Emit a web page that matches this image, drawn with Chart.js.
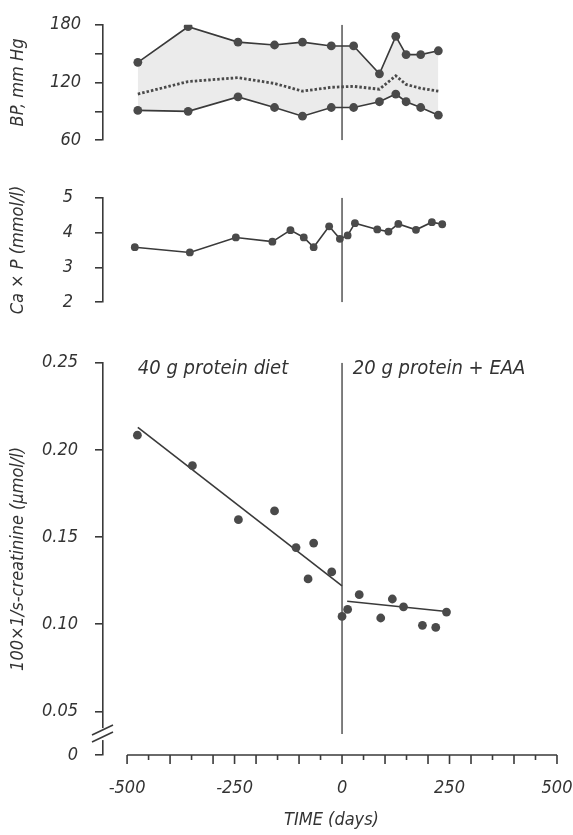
<!DOCTYPE html>
<html><head><meta charset="utf-8">
<script src="https://cdn.jsdelivr.net/npm/chart.js@4/dist/chart.umd.min.js"></script>
<style>
html,body{margin:0;padding:0;background:#fff;}
#wrap{position:relative;width:573px;height:835px;overflow:hidden;background:#fff;}
.box{position:absolute;left:0;width:573px;}
</style></head><body>
<div id="wrap">
  <div class="box" style="top:0;height:165px"><canvas id="c1"></canvas></div>
  <div class="box" style="top:165px;height:170px"><canvas id="c2"></canvas></div>
  <div class="box" style="top:335px;height:500px"><canvas id="c3"></canvas></div>
</div>
<script>
// ---------- data ----------
const bpDays    = [-475, -358, -242, -157, -92, -25, 27, 87, 125, 149, 183, 224];
const systolic  = [141, 178, 162, 159, 162, 158, 158, 129, 168, 149, 149, 153];
const diastolic = [91, 90, 105, 94, 85, 94, 94, 100, 108, 100, 94, 86];
const meanBP    = [108, 121, 125, 119, 111, 115, 116, 113, 127, 118, 114, 111];

const caDays = [-482, -354, -247, -162, -120, -89, -66, -30, -5, 13, 30, 82, 108, 131, 172, 209, 233];
const caxP   = [3.58, 3.43, 3.86, 3.74, 4.07, 3.86, 3.58, 4.18, 3.82, 3.92, 4.27, 4.09, 4.03, 4.25, 4.08, 4.30, 4.24];

const crDays     = [-476, -348, -241, -157, -107, -79, -66, -24, 0, 13, 40, 90, 117, 143, 187, 218, 243];
const creatinine = [0.2085, 0.191, 0.160, 0.165, 0.144, 0.126, 0.1466, 0.130, 0.1045, 0.1085, 0.117, 0.1036, 0.1145, 0.110, 0.0994, 0.0982, 0.107];

const fitBeforeDays = [-475, 0];
const fitBeforeVals = [0.213, 0.122];
const fitAfterDays  = [12, 243];
const fitAfterVals  = [0.1132, 0.1073];

const changeDay = 0;
const xTickLabels  = [-500, -250, 0, 250, 500];
const bpTickMarks  = [60, 90, 120, 150, 180];
const bpTickLabels = [60, 120, 180];
const caTicks      = [2, 3, 4, 5];
const crTicks      = [0.05, 0.10, 0.15, 0.20, 0.25];
const crAxisZero   = 0.025;   // broken-axis position of "0"

const dietLabels = [
  {day: -475, value: 0.2437, text: '40 g protein diet'},
  {day: 25,   value: 0.2437, text: '20 g protein + EAA'}
];

// ---------- helpers ----------
const pts = (xs, ys) => xs.map((x, i) => ({x: x, y: ys[i]}));
const FONT = "'Liberation Sans Narrow', 'DejaVu Sans Condensed', 'Liberation Sans', sans-serif";
const INK = '#3a3a3a';
Chart.defaults.font = {family: FONT, size: 18, style: 'italic'};
Chart.defaults.color = '#333';
Chart.defaults.animation = false;

const X_MIN = -556, X_MAX = 507, Y_W = 103;
const xHidden = {type: 'linear', min: X_MIN, max: X_MAX, display: false};

function yAxis(min, max, marks, labelFn, title, pad) {
  return {
    type: 'linear', min: min, max: max,
    afterBuildTicks: s => { s.ticks = marks.map(v => ({value: v})); },
    afterFit: s => { s.width = Y_W; },
    ticks: {callback: labelFn, padding: pad, color: '#333', font: {size: 18, style: 'italic', family: FONT}},
    grid: {drawOnChartArea: false, drawTicks: true, tickLength: 8, color: INK, lineWidth: 1.6},
    border: {display: true, color: INK, width: 1.6},
    title: {display: true, text: title, color: '#333', padding: {top: 8, bottom: 0},
            font: {size: 18, style: 'italic', family: FONT}}
  };
}
const lineDS = (data, extra) => Object.assign({
  data: data, showLine: true, borderColor: INK, borderWidth: 1.6,
  pointRadius: 4.4, pointHoverRadius: 4.4, pointBackgroundColor: '#4a4a4a', pointBorderWidth: 0,
  fill: false, tension: 0
}, extra || {});
const vline = (y0, y1) => lineDS([{x: changeDay, y: y0}, {x: changeDay, y: y1}], {pointRadius: 0, borderWidth: 1.3});

// ---------- chart 1: BP ----------
new Chart(document.getElementById('c1'), {
  type: 'scatter',
  data: {datasets: [
    lineDS(pts(bpDays, systolic), {fill: '+1', backgroundColor: 'rgba(205,205,205,0.4)'}),
    lineDS(pts(bpDays, diastolic)),
    lineDS(pts(bpDays, meanBP), {pointRadius: 0, borderDash: [2.5, 2], borderWidth: 2.8, borderColor: '#4a4a4a'}),
    vline(180, 60)
  ]},
  options: {
    responsive: true, maintainAspectRatio: false,
    layout: {padding: {top: 16, bottom: 19, left: 0, right: 13}},
    plugins: {legend: {display: false}, tooltip: {enabled: false}, filler: {drawTime: 'beforeDatasetsDraw'}},
    scales: {
      x: xHidden,
      y: yAxis(60, 180, bpTickMarks, v => bpTickLabels.includes(v) ? String(v) : '', 'BP, mm Hg', 14)
    }
  }
});

// ---------- chart 2: Ca x P ----------
new Chart(document.getElementById('c2'), {
  type: 'scatter',
  data: {datasets: [
    lineDS(pts(caDays, caxP), {pointRadius: 3.9, pointHoverRadius: 3.9}),
    vline(5, 2)
  ]},
  options: {
    responsive: true, maintainAspectRatio: false,
    layout: {padding: {top: 25, bottom: 14, left: 0, right: 13}},
    plugins: {legend: {display: false}, tooltip: {enabled: false}},
    scales: {
      x: xHidden,
      y: yAxis(2, 5, caTicks, v => String(v), 'Ca × P (mmol/l)', 22)
    }
  }
});

// ---------- chart 3: creatinine ----------
const decorPlugin = {
  id: 'decor',
  afterDraw(chart) {
    const ctx = chart.ctx, xs = chart.scales.x, ys = chart.scales.y, ca = chart.chartArea;
    ctx.save();
    // x axis line + ticks
    ctx.strokeStyle = INK; ctx.lineWidth = 1.6;
    const yb = ca.bottom;
    ctx.beginPath();
    ctx.moveTo(xs.getPixelForValue(-500), yb);
    ctx.lineTo(xs.getPixelForValue(500), yb);
    for (let v = -500; v <= 500; v += 50) {
      const len = (v % 100 === 0 || Math.abs(v) === 250) ? 9 : 5;
      const px = xs.getPixelForValue(v);
      ctx.moveTo(px, yb); ctx.lineTo(px, yb + len);
    }
    ctx.stroke();
    // axis break
    const ax = ca.left, by = ys.getPixelForValue(0.037);
    ctx.fillStyle = '#fff';
    ctx.fillRect(ax - 3, by - 6, 6, 12);
    ctx.beginPath();
    ctx.moveTo(ax - 11, by + 1); ctx.lineTo(ax + 10, by - 9);
    ctx.moveTo(ax - 11, by + 8); ctx.lineTo(ax + 10, by - 2);
    ctx.stroke();
    // diet labels
    ctx.fillStyle = '#333';
    ctx.font = 'italic 20px ' + FONT;
    ctx.textBaseline = 'alphabetic';
    dietLabels.forEach(l => ctx.fillText(l.text, xs.getPixelForValue(l.day), ys.getPixelForValue(l.value)));
    ctx.restore();
  }
};

new Chart(document.getElementById('c3'), {
  type: 'scatter',
  data: {datasets: [
    {data: pts(crDays, creatinine), showLine: false, pointRadius: 4.4, pointHoverRadius: 4.4,
     pointBackgroundColor: '#4a4a4a', pointBorderWidth: 0},
    lineDS(pts(fitBeforeDays, fitBeforeVals), {pointRadius: 0}),
    lineDS(pts(fitAfterDays, fitAfterVals), {pointRadius: 0}),
    vline(0.25, 0.037)
  ]},
  options: {
    responsive: true, maintainAspectRatio: false,
    layout: {padding: {top: 27, bottom: 0, left: 0, right: 13}},
    plugins: {legend: {display: false}, tooltip: {enabled: false}},
    scales: {
      x: {
        type: 'linear', min: X_MIN, max: X_MAX,
        afterBuildTicks: s => { s.ticks = xTickLabels.map(v => ({value: v})); },
        afterFit: s => { s.height = 80; s.paddingLeft = 0; s.paddingRight = 0; },
        grid: {display: false, drawTicks: true, tickLength: 9},
        border: {display: false},
        ticks: {padding: 14, color: '#333', maxRotation: 0, autoSkip: false,
                callback: v => String(v)},
        title: {display: true, text: 'TIME (days)', color: '#333', padding: {top: 0, bottom: 4},
                font: {size: 18, style: 'italic', family: FONT}}
      },
      y: yAxis(crAxisZero, 0.25, [crAxisZero].concat(crTicks),
               v => v < 0.04 ? '0' : v.toFixed(2), '100×1/s-creatinine (μmol/l)', 17)
    }
  },
  plugins: [decorPlugin]
});
</script>
</body></html>
